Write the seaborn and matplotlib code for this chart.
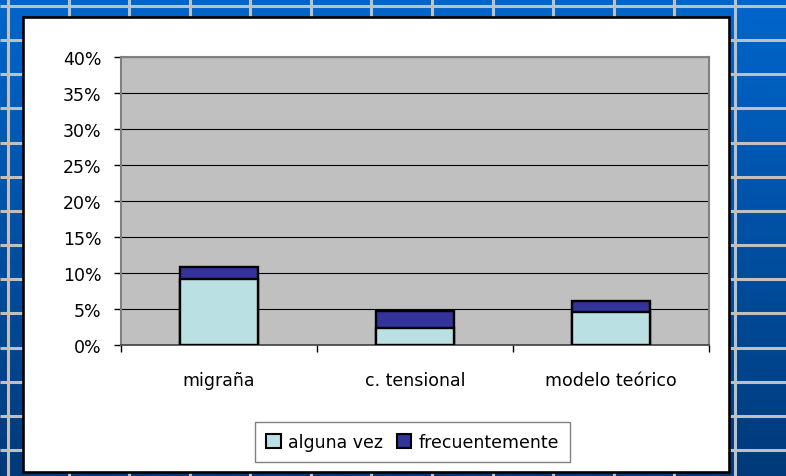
import numpy as np
import pandas as pd
import matplotlib
matplotlib.use("Agg")
import matplotlib.pyplot as plt
from matplotlib.patches import Rectangle, Patch
import seaborn as sns

# ---- data ----
categories = ["migraña", "c. tensional", "modelo teórico"]
alguna_vez = [9.1, 2.4, 4.6]
frecuentemente = [1.7, 2.3, 1.5]
series_names = ["alguna vez", "frecuentemente"]
y_ticks = [0, 5, 10, 15, 20, 25, 30, 35, 40]
y_tick_labels = ["0%", "5%", "10%", "15%", "20%", "25%", "30%", "35%", "40%"]

df = pd.DataFrame({
    "cat": categories,
    "alguna": alguna_vez,
    "total": [a + f for a, f in zip(alguna_vez, frecuentemente)],
})

sns.set_theme(style="white")
plt.rcParams["font.family"] = ["DejaVu Sans"]
plt.rcParams["text.color"] = "black"
plt.rcParams["xtick.color"] = "black"
plt.rcParams["ytick.color"] = "black"

W, H = 786, 477
fig = plt.figure(figsize=(W / 100, H / 100), dpi=100)

# ---- slide background ----
bg = fig.add_axes([0, 0, 1, 1], zorder=-1)
bg.set_xlim(0, W)
bg.set_ylim(H, 0)
bg.axis("off")
top_c = np.array([0, 102, 204]) / 255
bot_c = np.array([0, 58, 122]) / 255
t = np.linspace(0, 1, 256)[:, None]
grad = (top_c[None, :] * (1 - t) + bot_c[None, :] * t)[:, None, :]
grad = np.repeat(grad, 2, axis=1)
bg.imshow(grad, extent=[0, W, H, 0], aspect="auto", interpolation="bilinear")
for k in range(13):
    x = 8 + k * 60.58
    bg.plot([x, x], [0, H], color="#C0C0C0", lw=2.2, solid_capstyle="butt")
for k in range(14):
    y = 7 + k * 34.15
    bg.plot([0, W], [y, y], color="#C0C0C0", lw=2.2, solid_capstyle="butt")
bg.add_patch(Rectangle((23, 18), 706, 455, facecolor="white",
                       edgecolor="black", lw=1.9, zorder=5))

# ---- chart ----
ax = fig.add_axes([121 / W, 1 - 346 / H, (709 - 121) / W, 288 / H])
ax.set_facecolor("#C0C0C0")

sns.barplot(data=df, x="cat", y="total", color="#333399", width=0.4,
            edgecolor="black", linewidth=1.7, saturation=1, ax=ax, zorder=3)
sns.barplot(data=df, x="cat", y="alguna", color="#BBE0E3", width=0.4,
            edgecolor="black", linewidth=1.7, saturation=1, ax=ax, zorder=4)

ax.set_xlim(-0.5, 2.5)
ax.set_ylim(0, 40)
ax.set_yticks(y_ticks)
ax.set_yticklabels(y_tick_labels)
ax.yaxis.grid(True, color="black", lw=0.8)
ax.set_axisbelow(True)
ax.set_xlabel("")
ax.set_ylabel("")

ax.set_xticks([0, 1, 2])
ax.set_xticklabels(categories)
ax.set_xticks([-0.5, 0.5, 1.5, 2.5], minor=True)
ax.tick_params(axis="x", which="major", length=0, pad=19, labelsize=12.5,
               colors="black")
ax.tick_params(axis="x", which="minor", length=5, width=1, color="black",
               direction="out", bottom=True)
ax.tick_params(axis="y", which="major", length=5, width=1, color="black",
               direction="out", left=True, pad=9, labelsize=12.5,
               labelcolor="black")

for side in ["top", "right", "left"]:
    ax.spines[side].set_color("#808080")
    ax.spines[side].set_linewidth(1.5)
ax.spines["bottom"].set_color("#404040")
ax.spines["bottom"].set_linewidth(1.2)

handles = [Patch(facecolor="#BBE0E3", edgecolor="black", lw=1.5),
           Patch(facecolor="#333399", edgecolor="black", lw=1.5)]
leg = fig.legend(handles, series_names, loc="center",
                 bbox_to_anchor=(412.5 / W, 1 - 443 / H), ncol=2,
                 fontsize=12.5, frameon=True, fancybox=False,
                 handlelength=0.85, handleheight=0.85, handletextpad=0.4,
                 columnspacing=0.8, borderpad=0.65, labelcolor="black")
leg.get_frame().set_edgecolor("#808080")
leg.get_frame().set_linewidth(1.0)
leg.get_frame().set_facecolor("white")
leg.get_frame().set_alpha(1)

fig.savefig("out.png", dpi=100)
